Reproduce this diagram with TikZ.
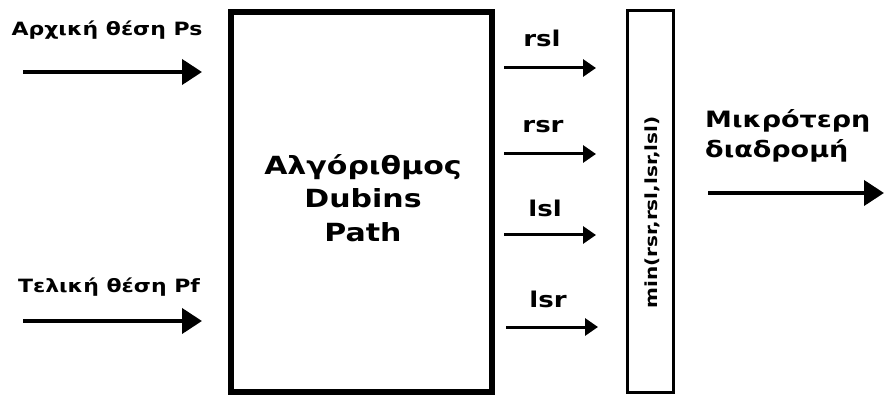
\documentclass[tikz,border=0pt]{standalone}
\usepackage{fontspec}
\setmainfont{DejaVu Sans}[FakeStretch=1.2]
\usetikzlibrary{arrows.meta,positioning}
\begin{document}
\begin{tikzpicture}[x=1pt,y=-1pt,
  inarrow/.style={line width=4pt,-{Triangle[length=20pt,width=25pt]}},
  midarrow/.style={line width=3pt,-{Triangle[length=13pt,width=17pt]}},
  lbl/.style={inner sep=0pt,anchor=base,font=\fontsize{18.3}{22}\selectfont\bfseries}]
\useasboundingbox (0,0) rectangle (884,398);
% blocks
\node[draw, line width=6pt, minimum width=261pt, minimum height=380pt] (algo) at (361.5,202){};
\node[align=center, inner sep=0pt, font=\fontsize{25}{33.5}\selectfont\bfseries] (algotxt) at (363,198){Αλγόριθμος\\Dubins\\Path};
\node[draw, line width=3pt, minimum width=46pt, minimum height=381pt] (minbox) at (650,201.5){};
\node[rotate=90, inner sep=0pt, font=\fontsize{16.7}{20}\selectfont\bfseries] (mintxt) at (652,212.5){min(rsr,rsl,lsr,lsl)};
% inputs
\coordinate (ps) at (23,72);
\coordinate (pf) at (23,321);
\node[lbl] (pslbl) at (107,36){Αρχική θέση Ps};
\node[lbl] (pflbl) at (109,293){Τελική θέση Pf};
\draw[inarrow] (ps) -- ([xshift=-26pt]ps -| algo.west) coordinate (psend);
\draw[inarrow] (pf) -- ([xshift=-26pt]pf -| algo.west) coordinate (pfend);
% the four paths
\foreach \nm/\xa/\yy/\lx/\ly in {rsl/504/68/542/47, rsr/504/154/543/133, lsl/504/235/545/217, lsr/506/327/548/307}{
  \coordinate (\nm a) at (\xa,\yy);
  \coordinate (\nm b) at (\xa+92,\yy);
  \draw[midarrow] (\nm a) -- (\nm b);
  \node[lbl, font=\fontsize{21.7}{26}\selectfont\bfseries] (\nm) at (\lx,\ly){\nm};
}
% output
\coordinate (outa) at (708,193);
\coordinate (outb) at (884,193);
\draw[inarrow] (outa) -- (outb);
\node[lbl, anchor=base west, font=\fontsize{22.5}{27}\selectfont\bfseries] (out1) at (705,128){Μικρότερη};
\node[lbl, anchor=base west, font=\fontsize{22.5}{27}\selectfont\bfseries] (out2) at (705,158){διαδρομή};
\end{tikzpicture}
\end{document}
